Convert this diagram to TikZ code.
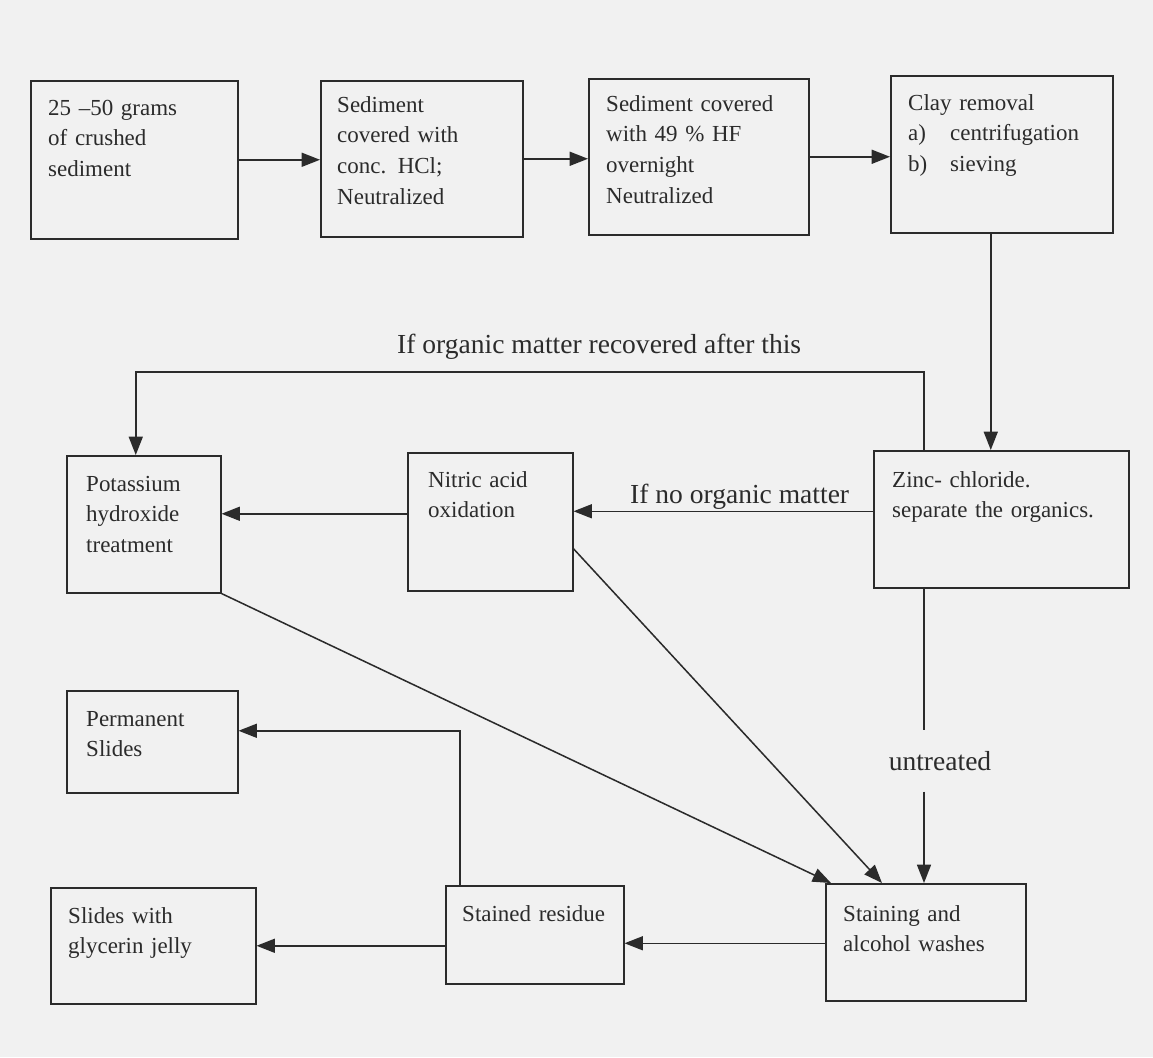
\documentclass[tikz,border=0pt]{standalone}
\usepackage{fontspec}
\setmainfont{Liberation Serif}
\usetikzlibrary{arrows.meta,calc}
\definecolor{bgc}{HTML}{F1F1F1}
\definecolor{ink}{HTML}{2B2B2B}
\begin{document}
\begin{tikzpicture}[x=0.03cm,y=-0.03cm,
  box/.style={draw=ink,line width=1.3pt,inner sep=0pt,anchor=north west},
  txt/.style={text=ink,inner sep=0pt,anchor=base west,align=left,text width=7cm,
    font=\fontsize{19.6pt}{26.4pt}\selectfont},
  lbl/.style={text=ink,inner sep=0pt,anchor=base west,font=\fontsize{23.5pt}{28pt}\selectfont},
  conn/.style={draw=ink,line width=1.3pt},
  arr/.style={conn,-{Triangle[length=0.55cm,width=0.42cm]}}]
\fill[bgc] (0,0) rectangle (1153,1057);
\useasboundingbox (0,0) rectangle (1153,1057);
% boxes
\node[box,minimum width=6.21cm,minimum height=4.74cm] (b1) at (30,80) {};
\node[box,minimum width=6.06cm,minimum height=4.68cm] (b2) at (320,80) {};
\node[box,minimum width=6.60cm,minimum height=4.68cm] (b3) at (588,78) {};
\node[box,minimum width=6.66cm,minimum height=4.71cm] (b4) at (890,75) {};
\node[box,minimum width=7.65cm,minimum height=4.11cm] (zinc) at (873,450) {};
\node[box,minimum width=4.95cm,minimum height=4.14cm] (nitric) at (407,452) {};
\node[box,minimum width=4.62cm,minimum height=4.11cm] (pot) at (66,455) {};
\node[box,minimum width=5.13cm,minimum height=3.06cm] (perm) at (66,690) {};
\node[box,minimum width=6.15cm,minimum height=3.48cm] (gly) at (50,887) {};
\node[box,minimum width=5.34cm,minimum height=2.94cm] (res) at (445,885) {};
\node[box,minimum width=6.00cm,minimum height=3.51cm] (stain) at (825,883) {};
% texts
\node[txt] (t1) at (48,115) {25 –50 grams\\of crushed\\sediment};
\node[txt] (t2) at (337,112) {Sediment\\covered with\\conc. HCl;\\Neutralized};
\node[txt] (t3) at (606,111) {Sediment covered\\with 49 \% HF\\overnight\\Neutralized};
\node[txt] (t4) at (908,110) {Clay removal\\\makebox[1.26cm][l]{a)}centrifugation\\\makebox[1.26cm][l]{b)}sieving};
\node[txt] (t5) at (892,487) {Zinc- chloride.\\separate the organics.};
\node[txt] (t6) at (428,487) {Nitric acid\\oxidation};
\node[txt] (t7) at (86,491) {Potassium\\hydroxide\\treatment};
\node[txt] (t8) at (86,726) {Permanent\\Slides};
\node[txt] (t9) at (68,923) {Slides with\\glycerin jelly};
\node[txt] (t10) at (462,921) {Stained residue};
\node[txt] (t11) at (843,921) {Staining and\\alcohol washes};
% labels
\node[lbl] (l1) at (397,353) {If organic matter recovered after this};
\node[lbl] (l2) at (630,503) {If no organic matter};
\node[lbl,anchor=center,inner ysep=0.62cm] (l3) at (940,761) {untreated};
% connectors
\draw[arr] (b1.east) -- (b1.east -| b2.west);
\draw[arr] (b2.east) -- (b2.east -| b3.west);
\draw[arr] (b3.east) -- (b3.east -| b4.west);
\coordinate (c4) at ($(b4.south)+(-11,0)$);
\draw[arr] (c4) -- (c4 |- zinc.north);
\coordinate (zt) at ($(zinc.north west)+(51,0)$);
\coordinate (pt) at ($(pot.north)+(-8,0)$);
\draw[arr] (zt) -- ++(0,-78) -| (pt);
\coordinate (zw) at ($(zinc.west)+(0,-8)$);
\draw[arr] (zw) -- (zw -| nitric.east);
\coordinate (nw) at ($(nitric.west)+(0,-8)$);
\draw[arr] (nw) -- (nw -| pot.east);
\coordinate (s1) at ($(stain.north west)+(6,0)$);
\coordinate (s2) at ($(stain.north west)+(57,0)$);
\draw[arr] (pot.south east) -- (s1);
\coordinate (ne) at ($(nitric.east)+(0,27)$);
\draw[arr] (ne) -- (s2);
\coordinate (zb) at ($(zinc.south west)+(51,0)$);
\draw[conn] (zb) -- (zb |- l3.north);
\draw[arr] (zb |- l3.south) -- (zb |- stain.north);
\coordinate (sw) at ($(stain.west)+(0,1)$);
\draw[arr] (sw) -- (sw -| res.east);
\draw[arr] (gly.east -| res.west) -- (gly.east);
\coordinate (rn) at ($(res.north west)+(15,0)$);
\coordinate (pe) at ($(perm.east)+(0,-11)$);
\draw[arr] (rn) |- (pe);
\end{tikzpicture}
\end{document}
